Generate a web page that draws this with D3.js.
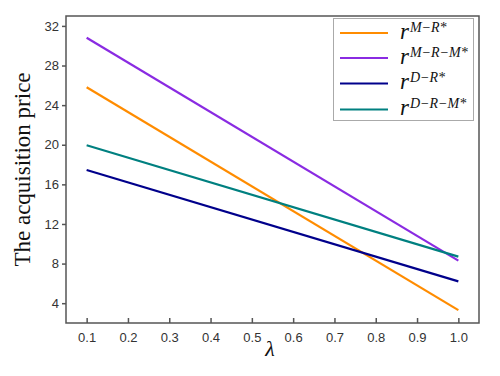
<!DOCTYPE html>
<html>
<head>
<meta charset="utf-8">
<script src="https://cdn.jsdelivr.net/npm/d3@7"></script>
<style>
  body { margin: 0; background: #fff; }
</style>
</head>
<body>
<svg id="chart"></svg>
<script>
// Chart values
var lambdas = [0.1, 1.0];
var seriesNames = ["M\u2212R*", "M\u2212R\u2212M*", "D\u2212R*", "D\u2212R\u2212M*"];
var seriesColors = ["#ff8c00", "#8a2be2", "#00008b", "#008080"];
var priceMR = [25.8, 3.3];
var priceMRM = [30.8, 8.3];
var priceDR = [17.45, 6.2];
var priceDRM = [19.95, 8.7];
var xTicks = [0.1, 0.2, 0.3, 0.4, 0.5, 0.6, 0.7, 0.8, 0.9, 1.0];
var yTicks = [4, 8, 12, 16, 20, 24, 28, 32];

var allSeries = [priceMR, priceMRM, priceDR, priceDRM];

var dimensions = {
    width: 500,
    height: 376,
    margin: { top: 16, bottom: 53, right: 21, left: 66 }
};

var svg = d3.select("#chart")
    .attr("width", dimensions.width)
    .attr("height", dimensions.height);

var xScale = d3.scaleLinear()
    .domain([0.05, 1.05])
    .range([dimensions.margin.left, dimensions.width - dimensions.margin.right]);

var yScale = d3.scaleLinear()
    .domain([2, 33])
    .range([dimensions.height - dimensions.margin.bottom, dimensions.margin.top]);

var axisColor = "#555";

// x axis, ticks pointing inward
var xAxis = svg.append("g")
    .attr("transform", "translate(0," + yScale.range()[0] + ")")
    .call(d3.axisBottom(xScale).tickValues(xTicks).tickFormat(d3.format(".1f"))
        .tickSizeInner(-5).tickSizeOuter(0).tickPadding(10));

// y axis, ticks pointing outward
var yAxis = svg.append("g")
    .attr("transform", "translate(" + xScale.range()[0] + ",0)")
    .call(d3.axisLeft(yScale).tickValues(yTicks).tickSizeInner(4).tickSizeOuter(0).tickPadding(3));

[xAxis, yAxis].forEach(function(g) {
    g.select(".domain").remove();
    g.selectAll("line").attr("stroke", axisColor).attr("stroke-width", 1.5);
    g.selectAll("text")
        .attr("fill", "#333")
        .style("font-family", "Arial, 'Liberation Sans', sans-serif")
        .style("font-size", "13px");
});

// frame around the plot
svg.append("rect")
    .attr("x", xScale.range()[0])
    .attr("y", yScale.range()[1])
    .attr("width", xScale.range()[1] - xScale.range()[0])
    .attr("height", yScale.range()[0] - yScale.range()[1])
    .attr("fill", "none")
    .attr("stroke", axisColor)
    .attr("stroke-width", 1.5);

// lines
var line = d3.line()
    .x(function(d, i) { return xScale(lambdas[i]); })
    .y(function(d) { return yScale(d); });

allSeries.forEach(function(values, i) {
    svg.append("path")
        .datum(values)
        .attr("fill", "none")
        .attr("stroke", seriesColors[i])
        .attr("stroke-width", 2.2)
        .attr("d", line);
});

// legend
var legend = svg.append("g");
legend.append("rect")
    .attr("x", 333.5)
    .attr("y", 18.5)
    .attr("width", 140)
    .attr("height", 102)
    .attr("fill", "#fff")
    .attr("stroke", "#aaa")
    .attr("stroke-width", 1);

var legendY = [33, 58, 83.5, 109.5];
seriesNames.forEach(function(name, i) {
    var y = legendY[i];
    legend.append("line")
        .attr("x1", 340).attr("x2", 388)
        .attr("y1", y).attr("y2", y)
        .attr("stroke", seriesColors[i])
        .attr("stroke-width", 2.2);
    var t = legend.append("text")
        .attr("x", 400)
        .attr("y", y + 5.5)
        .style("font-family", "'Times New Roman', 'Liberation Serif', serif")
        .style("font-style", "italic")
        .attr("fill", "#111");
    t.append("tspan").style("font-size", "23px").text("r");
    t.append("tspan")
        .attr("dy", -7)
        .attr("dx", 1)
        .style("font-size", "14px")
        .text(name);
});

// axis titles
svg.append("text")
    .attr("transform", "translate(30," + ((yScale.range()[0] + yScale.range()[1]) / 2) + ") rotate(-90)")
    .style("text-anchor", "middle")
    .style("font-family", "'Times New Roman', 'Liberation Serif', serif")
    .style("font-size", "23px")
    .attr("fill", "#111")
    .text("The acquisition price");

svg.append("text")
    .attr("x", 270)
    .attr("y", 356)
    .style("text-anchor", "middle")
    .style("font-family", "'Times New Roman', 'Liberation Serif', serif")
    .style("font-style", "italic")
    .style("font-size", "22px")
    .attr("fill", "#111")
    .text("\u03bb");
</script>
</body>
</html>
